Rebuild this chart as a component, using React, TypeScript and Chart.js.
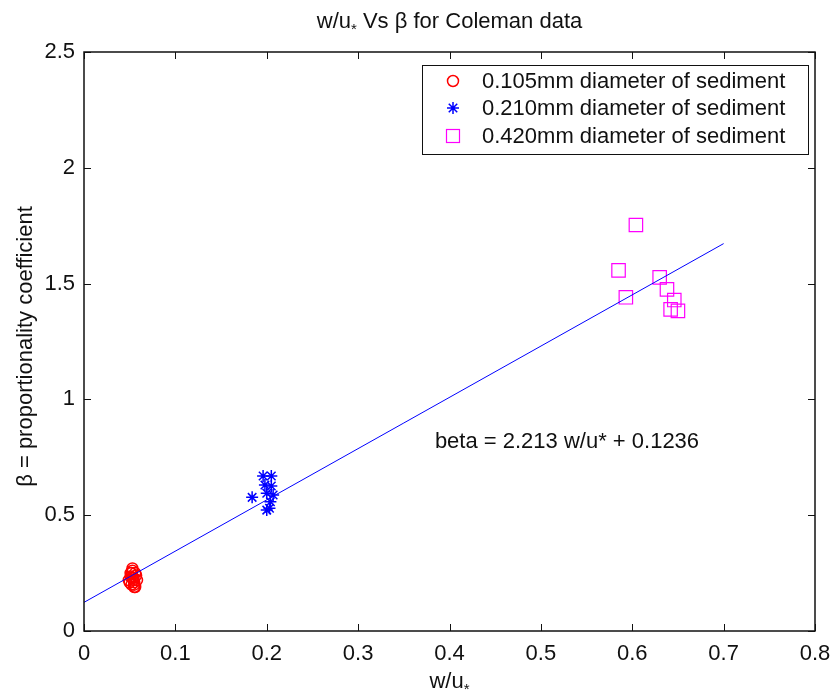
import React, { useEffect, useRef } from 'react';
import { Chart, registerables } from 'chart.js';

Chart.register(...registerables);

// ---- data ----
const xTicks = [0, 0.1, 0.2, 0.3, 0.4, 0.5, 0.6, 0.7, 0.8];
const yTicks = [0, 0.5, 1, 1.5, 2, 2.5];

const redX = [0.049, 0.051, 0.052, 0.053, 0.054, 0.055, 0.056, 0.057, 0.053, 0.055, 0.052, 0.054, 0.056, 0.05, 0.058, 0.053, 0.055, 0.051];
const redY = [0.22, 0.25, 0.2, 0.26, 0.23, 0.21, 0.19, 0.24, 0.23, 0.2, 0.25, 0.22, 0.25, 0.21, 0.22, 0.27, 0.19, 0.235];

const blueX = [0.184, 0.196, 0.205, 0.198, 0.205, 0.2, 0.207, 0.204, 0.2, 0.203];
const blueY = [0.577, 0.669, 0.669, 0.63, 0.626, 0.595, 0.587, 0.558, 0.522, 0.53];

const magX = [0.604, 0.585, 0.593, 0.63, 0.638, 0.646, 0.642, 0.65];
const magY = [1.753, 1.557, 1.441, 1.527, 1.475, 1.429, 1.389, 1.382];

const fitX = [0, 0.7];
const fitY = [0.1236, 1.6727];

const legendLabels = [
  '0.105mm diameter of sediment',
  '0.210mm diameter of sediment',
  '0.420mm diameter of sediment',
];
// title / x label: [main, subscript, rest]
const titleParts = ['w/u', '*', ' Vs \u03B2 for Coleman data'];
const xLabelParts = ['w/u', '*', ''];
const yLabel = '\u03B2 = proportionality coefficient';
const fitText = 'beta = 2.213 w/u* + 0.1236';
const fitTextX = 0.384;
const fitTextY = 0.816;

const FAMILY = '"Liberation Sans", Arial, sans-serif';
const FS = 22;

const pts = (xs: number[], ys: number[]) => xs.map((x, i) => ({ x, y: ys[i] }));

function drawSubText(ctx: CanvasRenderingContext2D, parts: string[], cx: number, y: number) {
  const big = `${FS}px ${FAMILY}`;
  const small = `${Math.round(FS * 0.7)}px ${FAMILY}`;
  ctx.font = big;
  const w0 = ctx.measureText(parts[0]).width;
  const w2 = ctx.measureText(parts[2]).width;
  ctx.font = small;
  const w1 = ctx.measureText(parts[1]).width;
  let x = cx - (w0 + w1 + w2) / 2;
  ctx.textAlign = 'left';
  ctx.textBaseline = 'alphabetic';
  ctx.font = big;
  ctx.fillText(parts[0], x, y);
  x += w0;
  ctx.font = small;
  ctx.fillText(parts[1], x, y + 6);
  x += w1;
  ctx.font = big;
  ctx.fillText(parts[2], x, y);
}

function drawMarker(ctx: CanvasRenderingContext2D, kind: number, x: number, y: number) {
  ctx.save();
  if (kind === 0) {
    ctx.lineWidth = 1.5;
    ctx.strokeStyle = '#ff0000';
    ctx.beginPath();
    ctx.arc(x, y, 5.5, 0, Math.PI * 2);
    ctx.stroke();
  } else if (kind === 1) {
    ctx.lineWidth = 1.5;
    ctx.strokeStyle = '#0000ff';
    const r = 6;
    const d = r * Math.SQRT1_2;
    ctx.beginPath();
    ctx.moveTo(x - r, y); ctx.lineTo(x + r, y);
    ctx.moveTo(x, y - r); ctx.lineTo(x, y + r);
    ctx.moveTo(x - d, y - d); ctx.lineTo(x + d, y + d);
    ctx.moveTo(x - d, y + d); ctx.lineTo(x + d, y - d);
    ctx.stroke();
  } else {
    ctx.lineWidth = 1.2;
    ctx.strokeStyle = '#ff00ff';
    ctx.strokeRect(x - 6.5, y - 6.5, 13, 13);
  }
  ctx.restore();
}

const decor = {
  id: 'decor',
  afterDraw(chart: any) {
    const { ctx, chartArea: a, scales } = chart;
    const xs = scales.x;
    const ys = scales.y;
    ctx.save();
    // axes box
    ctx.strokeStyle = '#111';
    ctx.lineWidth = 1.5;
    ctx.strokeRect(a.left, a.top, a.right - a.left, a.bottom - a.top);
    // inward ticks
    const tl = 7;
    ctx.lineWidth = 1;
    ctx.beginPath();
    xTicks.forEach((v) => {
      const px = Math.round(xs.getPixelForValue(v)) + 0.5;
      ctx.moveTo(px, a.bottom); ctx.lineTo(px, a.bottom - tl);
      ctx.moveTo(px, a.top); ctx.lineTo(px, a.top + tl);
    });
    yTicks.forEach((v) => {
      const py = Math.round(ys.getPixelForValue(v)) + 0.5;
      ctx.moveTo(a.left, py); ctx.lineTo(a.left + tl, py);
      ctx.moveTo(a.right, py); ctx.lineTo(a.right - tl, py);
    });
    ctx.stroke();

    ctx.fillStyle = '#111';
    const cx = (a.left + a.right) / 2;
    drawSubText(ctx, titleParts, cx, 28);
    drawSubText(ctx, xLabelParts, cx, 688);

    ctx.font = `${FS}px ${FAMILY}`;
    // y label
    ctx.save();
    ctx.translate(32, (a.top + a.bottom) / 2 + 5);
    ctx.rotate(-Math.PI / 2);
    ctx.textAlign = 'center';
    ctx.textBaseline = 'alphabetic';
    ctx.fillText(yLabel, 0, 0);
    ctx.restore();
    // fit annotation
    ctx.textAlign = 'left';
    ctx.textBaseline = 'middle';
    ctx.fillText(fitText, xs.getPixelForValue(fitTextX), ys.getPixelForValue(fitTextY));

    // legend
    const lx = 422, ly = 65, lw = 386, lh = 89;
    ctx.fillStyle = '#fff';
    ctx.fillRect(lx, ly, lw, lh);
    ctx.strokeStyle = '#111';
    ctx.lineWidth = 1;
    ctx.strokeRect(lx + 0.5, ly + 0.5, lw, lh);
    const rows = [81, 108, 136];
    rows.forEach((ry, i) => {
      drawMarker(ctx, i, 453, ry);
      ctx.fillStyle = '#111';
      ctx.textAlign = 'left';
      ctx.textBaseline = 'middle';
      ctx.fillText(legendLabels[i], 482, ry + 1);
    });
    ctx.restore();
  },
};

export default function App() {
  const ref = useRef<HTMLCanvasElement | null>(null);
  useEffect(() => {
    document.body.style.margin = '0';
    const canvas = ref.current;
    if (!canvas) return;
    const tickFont = { family: FAMILY, size: FS };
    const chart = new Chart(canvas, {
      type: 'scatter',
      data: {
        datasets: [
          {
            label: 'fit',
            data: pts(fitX, fitY),
            showLine: true,
            borderColor: '#0000ff',
            borderWidth: 1,
            pointRadius: 0,
            fill: false,
          },
          {
            label: legendLabels[0],
            data: pts(redX, redY),
            pointStyle: 'circle',
            pointRadius: 5.5,
            borderColor: '#ff0000',
            backgroundColor: 'rgba(0,0,0,0)',
            borderWidth: 1.5,
          },
          {
            label: legendLabels[1],
            data: pts(blueX, blueY),
            pointStyle: 'star',
            pointRadius: 6,
            borderColor: '#0000ff',
            backgroundColor: '#0000ff',
            borderWidth: 1.5,
          },
          {
            label: legendLabels[2],
            data: pts(magX, magY),
            pointStyle: 'rect',
            pointRadius: 9.5,
            borderColor: '#ff00ff',
            backgroundColor: 'rgba(0,0,0,0)',
            borderWidth: 1.2,
          },
        ] as any,
      },
      options: {
        responsive: false,
        animation: false,
        devicePixelRatio: 1,
        events: [],
        layout: { padding: { top: 52, right: 16, bottom: 0, left: 0 } },
        plugins: {
          legend: { display: false },
          tooltip: { enabled: false },
          title: { display: false },
        },
        scales: {
          x: {
            type: 'linear',
            min: 0,
            max: 0.8,
            grid: { display: false, drawTicks: false },
            border: { display: false },
            ticks: {
              font: tickFont,
              color: '#111',
              padding: 10,
              maxRotation: 0,
              callback: (v: any) => String(Math.round(Number(v) * 10) / 10),
            },
            afterBuildTicks: (s: any) => {
              s.ticks = xTicks.map((v) => ({ value: v }));
            },
            afterFit: (s: any) => {
              s.height = 63;
              s.paddingLeft = 0;
              s.paddingRight = 0;
            },
          },
          y: {
            type: 'linear',
            min: 0,
            max: 2.5,
            grid: { display: false, drawTicks: false },
            border: { display: false },
            ticks: {
              font: tickFont,
              color: '#111',
              padding: 9,
              callback: (v: any) => String(Math.round(Number(v) * 10) / 10),
            },
            afterBuildTicks: (s: any) => {
              s.ticks = yTicks.map((v) => ({ value: v }));
            },
            afterFit: (s: any) => {
              s.width = 84;
              s.paddingTop = 0;
              s.paddingBottom = 0;
            },
          },
        },
      } as any,
      plugins: [decor],
    });
    return () => chart.destroy();
  }, []);
  return (
    <div style={{ position: 'fixed', left: 0, top: 0, width: 831, height: 694, background: '#fff' }}>
      <canvas ref={ref} width={831} height={694} style={{ width: 831, height: 694 }} />
    </div>
  );
}
